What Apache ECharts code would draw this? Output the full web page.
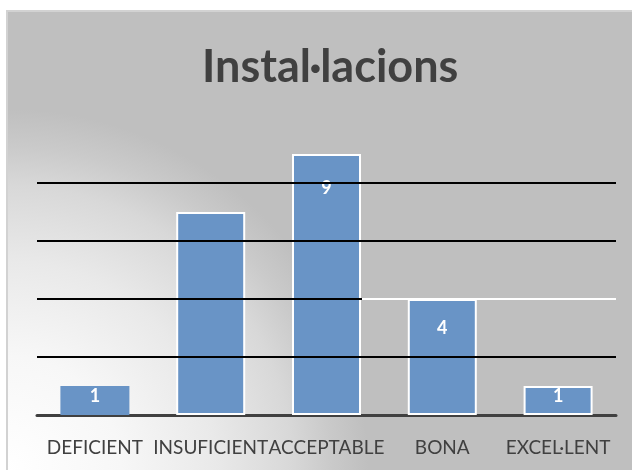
<!DOCTYPE html>
<html>
<head>
<meta charset="utf-8">
<script src="https://cdn.jsdelivr.net/npm/echarts@6/dist/echarts.min.js"></script>
<style>
  html, body { margin: 0; padding: 0; background: #fff; }
  #installChart { width: 632px; height: 470px; }
</style>
</head>
<body>
<div id="installChart"></div>
<script>
const categories = ['DEFICIENT', 'INSUFICIENT', 'ACCEPTABLE', 'BONA', 'EXCEL·LENT']
const values = [1, 7, 9, 4, 1]
// the reference shows no label on the second bar
const showLabel = [true, false, true, true, true]
const labelDist = [1, 0, 25, 20, 1]

const chart = echarts.init(document.getElementById('installChart'))

const barData = values.map((v, i) => ({
  value: v,
  itemStyle: i === 0 ? { borderWidth: 0 } : {},
  label: { show: showLabel[i], distance: labelDist[i] },
}))

const option = {
  animation: false,
  graphic: [
    {
      type: 'rect',
      z: -100,
      shape: { x: 7, y: 11, width: 640, height: 480 },
      style: {
        stroke: '#d2d2d2',
        lineWidth: 2,
        fill: {
          type: 'radial',
          x: 7,
          y: 470,
          r: 380,
          global: true,
          colorStops: [
            { offset: 0, color: '#ffffff' },
            { offset: 0.3, color: '#f7f7f7' },
            { offset: 0.55, color: '#e9e9e9' },
            { offset: 0.75, color: '#d8d8d8' },
            { offset: 0.85, color: '#cacaca' },
            { offset: 0.95, color: '#bfbfbf' },
            { offset: 1, color: '#bfbfbf' },
          ],
        },
      },
    },
  ],
  title: {
    text: 'Instal·lacions',
    left: 197,
    top: 40,
    textStyle: {
      fontFamily: 'Lato',
      fontWeight: 'bold',
      fontSize: 45,
      color: '#404040',
    },
  },
  grid: { left: 37, right: 16, top: 125, bottom: 55 },
  xAxis: {
    type: 'category',
    data: categories,
    axisTick: { show: false },
    axisLine: { lineStyle: { color: '#404040', width: 3 } },
    axisLabel: {
      interval: 0,
      margin: 23,
      fontFamily: 'Lato',
      fontSize: 19,
      color: '#404040',
    },
  },
  yAxis: {
    type: 'value',
    min: 0,
    max: 10,
    interval: 2,
    z: 3,
    axisLabel: { show: false },
    axisLine: { show: false },
    axisTick: { show: false },
    splitLine: {
      showMinLine: false,
      showMaxLine: false,
      lineStyle: { color: '#000000', width: 2 },
    },
  },
  series: [
    {
      type: 'bar',
      data: barData,
      barWidth: 69,
      itemStyle: { color: '#6994c6', borderColor: '#ffffff', borderWidth: 2 },
      label: {
        show: true,
        position: 'insideTop',
        color: '#ffffff',
        fontFamily: 'Lato',
        fontWeight: 'bold',
        fontSize: 18,
      },
      markLine: {
        silent: true,
        symbol: 'none',
        label: { show: false },
        lineStyle: { color: '#ffffff', width: 2, type: 'solid' },
        data: [[{ x: 362, yAxis: 4 }, { x: 616, yAxis: 4 }]],
      },
    },
  ],
}

chart.setOption(option)
</script>
</body>
</html>
